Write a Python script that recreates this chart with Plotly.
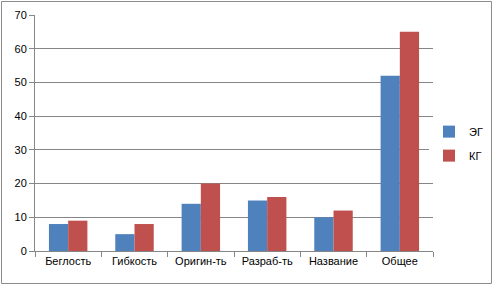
import plotly.graph_objects as go

categories = ["Беглость", "Гибкость", "Оригин-ть", "Разраб-ть", "Название", "Общее"]
eg_values = [8, 5, 14, 15, 10, 52]
kg_values = [9, 8, 20, 16, 12, 65]
y_ticks = [0, 10, 20, 30, 40, 50, 60, 70]

W, H = 493, 285
ML, MR, MT, MB = 35, 60, 15, 34

fig = go.Figure()
fig.add_trace(go.Bar(x=categories, y=eg_values, name="ЭГ", marker_color="#4F81BD",
                     marker_line_width=0, legendgroup="a"))
fig.add_trace(go.Bar(x=categories, y=kg_values, name="КГ", marker_color="#C0504D",
                     marker_line_width=0, legendgroup="b"))

pw = W - ML - MR
ph = H - MT - MB
# outer frame around the whole picture
fig.add_shape(type="rect", xref="paper", yref="paper",
              x0=(1.5 - ML) / pw, x1=(W - 1.5 - ML) / pw,
              y0=-(H - 1.5 - MT - ph) / ph, y1=(MT - 1.5) / ph + 1,
              line=dict(color="#8c8c8c", width=1))

fig.update_layout(
    width=W, height=H,
    margin=dict(l=ML, r=MR, t=MT, b=MB, autoexpand=False),
    paper_bgcolor="white", plot_bgcolor="white",
    font=dict(family="Liberation Sans, Arial, sans-serif", size=11, color="#000000"),
    barmode="group", bargap=0.42, bargroupgap=0,
    showlegend=True,
    legend=dict(x=0.99, y=0.455, xanchor="left", yanchor="middle",
                font=dict(size=11), tracegroupgap=5, itemwidth=30),
    xaxis=dict(showline=True, linecolor="#868686", linewidth=1,
               ticks="outside", tickson="boundaries", ticklen=5, tickcolor="#868686",
               showgrid=False),
    yaxis=dict(range=[0, 70], tickvals=y_ticks, showline=True, linecolor="#868686",
               linewidth=1, ticks="outside", ticklen=5, tickcolor="#868686",
               showgrid=True, gridcolor="#868686", gridwidth=1, zeroline=False),
)

fig.write_html("out.html", config={"displayModeBar": False},
               post_script="document.body.style.margin='0';")
